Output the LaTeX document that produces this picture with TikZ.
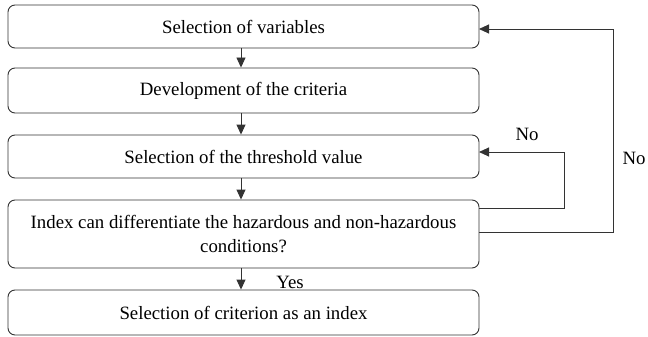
\documentclass[tikz,border=0pt]{standalone}
\usepackage{fontspec}
\setmainfont{Liberation Serif}
\usetikzlibrary{arrows.meta}
\begin{document}
\begin{tikzpicture}[x=1pt,y=-1pt,
  box/.style={draw=black!80,line width=0.9pt,rounded corners=7pt,minimum width=471pt,inner sep=0pt,align=center,font=\fontsize{18.8}{23.5}\selectfont},
  conn/.style={draw=black!80,line width=0.9pt},
  arr/.style={conn,-{Triangle[length=10pt,width=9pt]}},
  lbl/.style={font=\fontsize{18.8}{22}\selectfont,inner sep=0pt}]
\useasboundingbox (0,0) rectangle (648,337);
\node[box,minimum height=43pt] (b1) at (243.5,26.5) {Selection of variables};
\node[box,minimum height=45pt] (b2) at (243.5,90.5) {Development of the criteria};
\node[box,minimum height=43pt] (b3) at (243.5,156.5) {Selection of the threshold value};
\node[box,minimum height=68pt] (b4) at (243.5,234) {Index can differentiate the hazardous and non-hazardous\\conditions?};
\node[box,minimum height=45pt] (b5) at (243.5,312.5) {Selection of criterion as an index};
\coordinate (ax) at (241,0);
\coordinate (in) at (564,0);
\coordinate (out) at (613,0);
\draw[arr] (b1.south -| ax) -- (b2.north -| ax);
\draw[arr] (b2.south -| ax) -- (b3.north -| ax);
\draw[arr] (b3.south -| ax) -- (b4.north -| ax);
\draw[arr] (b4.south -| ax) -- (b5.north -| ax);
\coordinate (i1) at (479,208);
\coordinate (i2) at (479,152);
\coordinate (o1) at (479,232);
\coordinate (o2) at (479,29);
\draw[arr] (i1) -- (i1 -| in) -- (i2 -| in) -- (i2);
\draw[arr] (o1) -- (o1 -| out) -- (o2 -| out) -- (o2);
\node[lbl] (no1) at (527,134) {No};
\node[lbl] (no2) at (634,158) {No};
\node[lbl] (yes) at (290,282) {Yes};
\end{tikzpicture}
\end{document}
